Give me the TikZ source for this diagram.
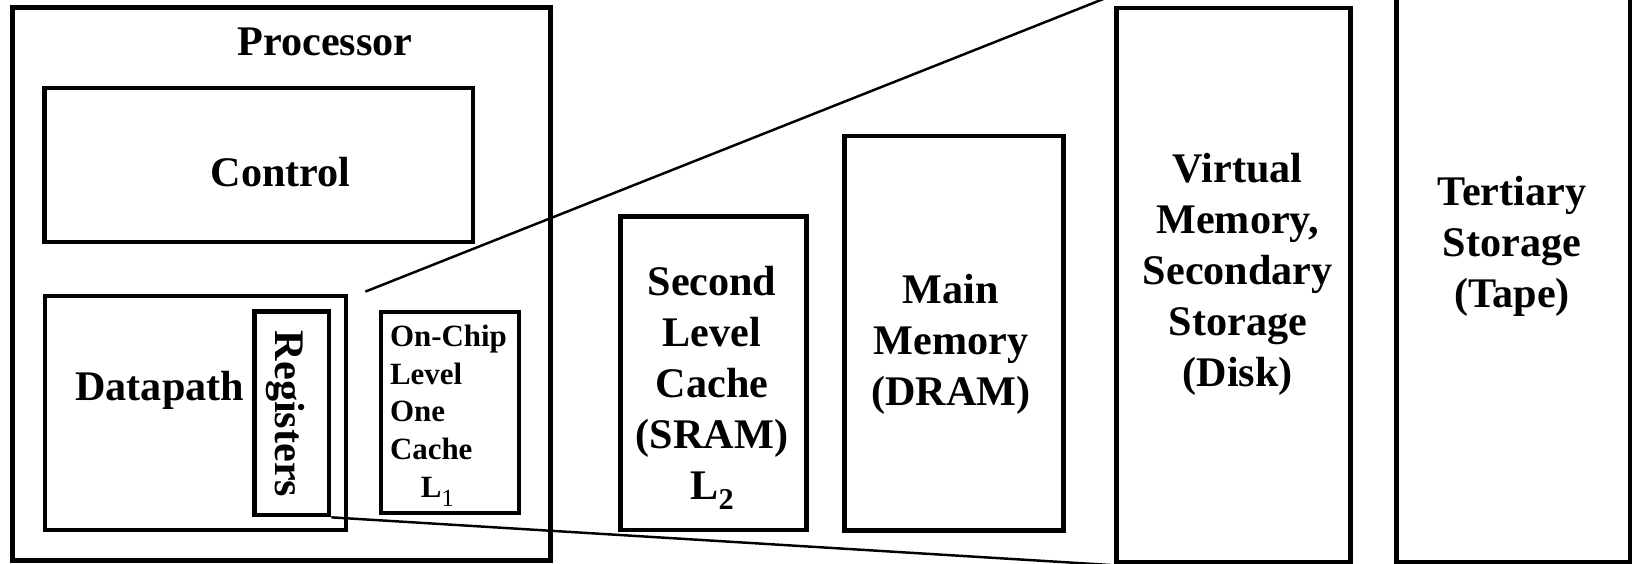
\documentclass[tikz,border=0pt]{standalone}
\usepackage{fontspec}
\setmainfont{Liberation Serif}

% lowered level index after the L
\newcommand{\cachesub}[3]{\raisebox{-#1}{\fontsize{#2}{#2}\selectfont #3}}

\begin{document}
\begin{tikzpicture}[
  unit/.style={
    draw,
    line width=1.35pt,
    inner sep=0pt
  },
  big/.style={font=\fontsize{12}{14.5}\selectfont\bfseries, align=center, inner sep=0pt},
  small/.style={font=\fontsize{8.8}{10.7}\selectfont\bfseries, align=left, inner sep=0pt},
  zoom/.style={line width=0.7pt}
]
\clip (0,0) rectangle (16.33,5.64);

% Processor
\node[unit,minimum width=5.38cm,minimum height=5.525cm] (proc) at (2.815,2.80) {};
\node[big,anchor=base] (proctxt) at (3.25,5.08) {Processor};

\node[unit,minimum width=4.285cm,minimum height=1.54cm] (ctrl) at (2.5875,3.99) {};
\node[big,anchor=base] (ctrltxt) at (2.806,3.77) {Control};

\node[unit,minimum width=3.01cm,minimum height=2.34cm] (dpath) at (1.955,1.51) {};
\node[big,anchor=base] (dpathtxt) at (1.597,1.63) {Datapath};

\node[unit,minimum width=0.745cm,minimum height=2.035cm] (regs) at (2.9175,1.5075) {};
\node[big,rotate=-90] (regstxt) at (2.85,1.50) {Registers};

% On-chip cache
\node[unit,minimum width=1.38cm,minimum height=2.01cm] (lone) at (4.50,1.515) {};
\node[small,anchor=west] (lonetxt) at (3.893,1.48)
{On-Chip\\Level\\One\\Cache\\\quad L\cachesub{2.8pt}{7}{\mdseries 1}};

% Off-chip levels
\node[unit,minimum width=1.86cm,minimum height=3.133cm] (ltwo) at (7.137,1.9065) {};
\node[big] (ltwotxt) at (7.12,1.76)
{Second\\Level\\Cache\\(SRAM)\\L\cachesub{3pt}{8.6}{2}};

\node[unit,minimum width=2.19cm,minimum height=3.945cm] (dram) at (9.54,2.3075) {};
\node[big] (dramtxt) at (9.51,2.20) {Main\\Memory\\(DRAM)};

\node[unit,minimum width=2.34cm,minimum height=5.54cm] (disk) at (12.335,2.79) {};
\node[big] (disktxt) at (12.378,2.897)
{Virtual\\Memory,\\Secondary\\Storage\\(Disk)};

\node[unit,minimum width=2.335cm,minimum height=5.92cm] (tape) at (15.1325,2.98) {};
\node[big] (tapetxt) at (15.12,3.177) {Tertiary\\Storage\\(Tape)};

% Zoom lines
\coordinate (zoomstart) at ([shift={(0.17,0.02)}]dpath.north east);
\coordinate (zoomtop) at (11.06,5.66);
\coordinate (zoombot) at (11.10,-0.01);
\draw[zoom] (zoomstart) -- (zoomtop);
\draw[zoom] (regs.south east) -- (zoombot);

\end{tikzpicture}
\end{document}
